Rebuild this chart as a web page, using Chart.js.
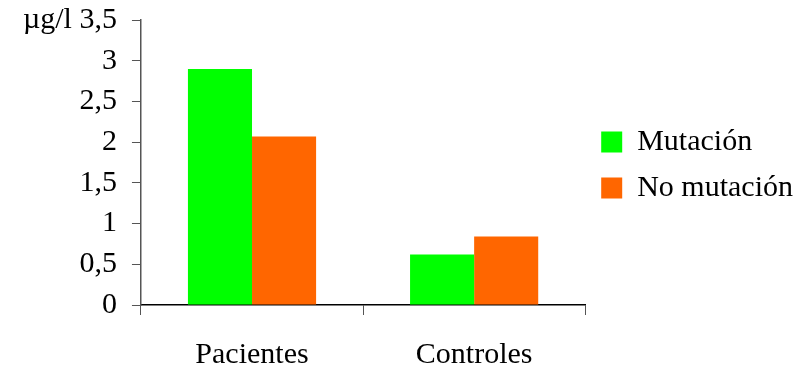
<!DOCTYPE html>
<html>
<head>
<meta charset="utf-8">
<script src="https://cdn.jsdelivr.net/npm/chart.js@4"></script>
<style>
  body { margin: 0; background: #fff; }
  #wrap { width: 810px; height: 367px; }
</style>
</head>
<body>
<div id="wrap"><canvas id="chart" width="810" height="367"></canvas></div>
<script>
// data
const groups = ['Pacientes', 'Controles'];
const mutacion = [2.9, 0.62];
const noMutacion = [2.07, 0.84];
const seriesNames = ['Mutación', 'No mutación'];

const family = '"Liberation Serif", "Times New Roman", serif';
const font = { family: family, size: 30 };

const ctx = document.getElementById('chart').getContext('2d');
const chart = new Chart(ctx, {
    type: 'bar',
    data: {
        labels: groups,
        datasets: [{
            label: seriesNames[0],
            data: mutacion,
            backgroundColor: '#00ff00',
            borderWidth: 0
        }, {
            label: seriesNames[1],
            data: noMutacion,
            backgroundColor: '#ff6600',
            borderWidth: 0
        }]
    },
    options: {
        responsive: false,
        animation: false,
        categoryPercentage: 0.577,
        barPercentage: 1,
        layout: { padding: { top: 0, right: 7, left: 8, bottom: -28 } },
        plugins: {
            tooltip: { enabled: false },
            legend: {
                position: 'right',
                align: 'start',
                maxWidth: 300,
                // empty title only pushes the items down to the middle
                title: { display: true, text: '', font: { size: 10 }, padding: { top: 99, bottom: 0 } },
                labels: {
                    color: '#000',
                    font: font,
                    boxWidth: 21,
                    boxHeight: 21,
                    padding: 16
                }
            }
        },
        scales: {
            x: {
                grid: {
                    offset: true,
                    drawOnChartArea: false,
                    tickLength: 10,
                    color: '#555'
                },
                border: { color: '#000', width: 1.5 },
                ticks: { color: '#000', font: font, padding: 22 }
            },
            y: {
                min: 0,
                max: 3.5,
                grid: {
                    drawOnChartArea: false,
                    tickLength: 9,
                    color: '#555'
                },
                border: { color: '#555', width: 1.5 },
                ticks: {
                    stepSize: 0.5,
                    autoSkip: false,
                    color: '#000',
                    font: { family: family, size: 30, lineHeight: 0.34 },
                    padding: 15,
                    callback: function(v) {
                        const s = String(v).replace('.', ',');
                        return v === 3.5 ? 'µg/l ' + s : s;
                    }
                }
            }
        }
    }
});
</script>
</body>
</html>
